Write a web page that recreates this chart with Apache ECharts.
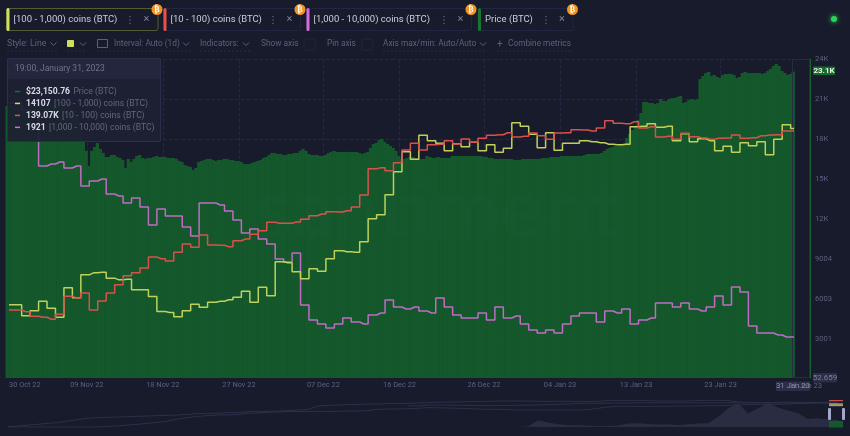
<!DOCTYPE html>
<html><head><meta charset="utf-8">
<style>html,body{margin:0;padding:0;background:#181b2b}#c{width:850px;height:436px}</style>
<script src="https://cdn.jsdelivr.net/npm/echarts@6/dist/echarts.min.js"></script>
</head><body><div id="c"></div>
<script>
// ---- data ----
const seriesNames = ['[100 - 1,000) coins (BTC)','[10 - 100) coins (BTC)','[1,000 - 10,000) coins (BTC)','Price (BTC)'];
const tickDates = ['2022-10-30T19:00Z','2022-11-09','2022-11-18','2022-11-27','2022-12-07','2022-12-16','2022-12-26','2023-01-04','2023-01-13','2023-01-23'];
const priceTicks = [3001,6003,9004,12000,15000,18000,21000,24000];
const tooltipRows = [['$23,150.76','Price (BTC)'],['14107','[100 - 1,000) coins (BTC)'],['139.07K','[10 - 100) coins (BTC)'],['1921','[1,000 - 10,000) coins (BTC)']];
// price sampled three times a day
const priceUsd = [20475,20475,20550,20550,20475,20475,20550,20625,20625,20550,20550,20625,20625,20700,20625,20625,20550,20550,20625,20550,20550,20475,20475,
20325,20175,19725,18750,17775,17100,15975,17100,17400,17700,17250,16950,16650,16650,16800,16800,16650,16575,16425,15825,16500,16275,16500,16725,16800,16575,16500,16575,16575,16650,16725,16650,16650,16650,16575,16575,16575,16500,16350,16275,16050,15975,15900,15675,15825,16275,16350,16425,16500,16500,16425,16350,16425,16425,16500,16500,16425,16425,16350,16350,16275,16125,16125,16125,16200,16275,16350,16425,16575,16650,16800,16950,16950,16875,16875,16800,16800,16875,16875,16950,16950,17100,17250,17100,16875,16800,16800,16800,16725,16725,16800,16950,17025,17100,17025,17025,17025,17025,17025,17025,17025,17025,16950,16875,16950,17025,17325,17625,17700,17925,18000,17775,17625,17475,17325,17100,16725,16500,16500,16575,16650,16650,16575,16500,16500,16500,16725,16650,16575,16575,16650,16575,16575,16575,16575,16725,16725,16725,16725,16725,16725,16725,16725,16725,16725,16725,16650,16650,16575,16575,16500,16500,16500,16500,16500,16500,16500,16425,16425,16425,16500,16500,16500,16500,16500,16500,16500,16575,16575,16575,16650,16650,16650,16650,16725,16725,16725,16725,16725,16725,16725,16725,16800,16875,16875,16875,16875,16875,16950,17100,17250,17325,17400,17475,17475,17550,17625,18075,18375,18675,18975,19425,19950,20775,20775,20700,20700,20625,20700,21000,20850,20850,21000,21075,21075,21150,21225,20700,20775,20925,21000,20925,21000,22500,22725,22950,23025,22725,22800,22650,22575,22800,22875,22875,22875,22800,22575,22650,22950,23025,22950,22950,22950,22950,22950,22875,22950,23100,23250,23475,23625,23475,23100,22950,22800,22875,23025,23150];
const yellow = [13578,13578,13545,13560,13589,13568,13541,13629,13599,13668,13674,13676,13658,13653,13655,13623,13623,13603,13558,13555,13542,13560,13580,13571,13586,13589,13593,13601,13619,13586,13631,13605,13707,13704,13677,13656,13686,13679,13716,13740,13737,13736,13767,13836,13848,13908,13977,14037,14015,14087,14070,14063,14040,14061,14052,14066,14040,14058,14036,14048,14124,14114,14090,14049,14094,14042,14063,14063,14070,14067,14064,14060,14058,14060,14112,14114,14121,14111,14114,14070,14091,14067,14076,14070,14040,14054,14036,14064,14055,14067,14028,14075,14118,14107];
const red = [137280,137280,137263,137217,137207,137187,137237,137417,137400,137450,137280,137370,137450,137533,137623,137653,137700,137810,137793,137770,137857,137940,137907,138030,137930,137927,137913,137973,137990,138037,138073,138157,138147,138147,138160,138187,138223,138240,138263,138260,138273,138310,138430,138693,138703,138673,138753,138880,138947,138880,138933,138937,138973,138940,138990,138957,138997,139027,139033,139053,139010,139017,139050,139023,138987,139050,139053,139083,139080,139070,139100,139173,139147,139143,139163,139100,139113,139010,139017,138987,139047,139013,139000,138987,138997,139000,139030,138997,139003,139023,139030,139033,139070,139070];
const pink = [2155,2155,2148,2146,2092,2094,2096,2090,2092,2072,2077,2079,2064,2062,2055,2060,2051,2033,2049,2042,2042,2031,2022,2055,2055,2053,2047,2038,2025,2029,2019,2014,1999,1996,2005,1953,1938,1934,1930,1934,1940,1936,1934,1943,1945,1958,1951,1949,1951,1947,1945,1960,1951,1943,1940,1940,1945,1938,1951,1940,1942,1934,1928,1925,1928,1925,1934,1942,1945,1945,1936,1947,1945,1949,1934,1938,1940,1955,1955,1951,1955,1949,1947,1951,1962,1953,1971,1966,1932,1925,1925,1923,1921,1921];
// overview strip: long-run price and holder counts (relative height)
const miniPrice = [0,0,0,0,0,0,0,0,0,0,0,0,0,0,0,0,0,0,0,0,0,0,0,0,0,0,0,0,0,0,0,0,0,0,0,0,0,0,0,0,0,200,200,300,300,300,300,300,400,500,800,1000,2900,19300,13500,8600,6600,5800,4900,2900,3700,4900,10600,11500,9500,7800,8600,6600,8600,10600,11500,29600,54600,69000,40200,54600,69000,56600,48000,40200,23900,25900,22100,21000];
const miniA = [0.7,1.3,2.3,3,4,4.7,6.3,7.7,9,9.7,10,10.3,10.7,11,11.3,11.7,12,12.3,13,13.7,14,14,14.7,14.7,15.7,15.7,16,16.3,16.7,17.3,17.7,21.3,22,22.3,22.7,23,23.3,23.3,23.7,23.7,24,24.3,24.7,25,25.3,25.3,25.7,25.7,26,26.3,26.3,26.3,26.3,26,26,26,26,25.7,25.7,26,26.7,26.7,26.7,26.7,26.7,26.3,26.3,26.3,26.3,26.7,27,27,26.7,25.3,25,24.7,24.7,25,25,25,25,25,25,25];
const miniB = [0.3,0.3,0.3,0.3,0.3,0.3,0.3,0.3,0.3,0.3,1,1.3,2.3,3,4,5,6.3,8.3,9.7,11,11.7,12.3,12.3,13,14,14.3,15,15.3,15.7,15.7,15.7,15.7,15.7,16,16.3,16.3,16.7,18,18.3,18.3,18.7,19,19.7,19.5,19.3,19,18.7,18.3,18,18,17.7,17.3,17.3,17.3,17.3,17.3,17.3,17.3,17.7,19,20.3,21,21,21,21,21,21,21.3,21.3,21.3,21.7,21.7,22,22.3,22.7,23,23,23,23.3,23.7,24,24.3,24.3,24.3];
const miniC = [null,null,null,null,null,null,null,null,null,null,null,null,null,null,null,null,null,null,null,null,null,null,null,null,null,null,null,null,null,null,null,null,null,null,null,null,null,null,null,null,21.5,21.5,22.3,22.3,22.3,22,22,21.7,21.7,21.7,22,22,22.3,22.3,22.7,23,23.3,23.7,24,24,24.3,24.3,24.3,24.5,24.5,24.5,24.5,24.5,24.5,24.5,24.5,24.5,24.5,24.5,24.5,24.5,24.5,24.5,24.5,24.5,24.5,24.5,24.5,24.5];

// ---- time ----
const DAY = 864e5, START = Date.UTC(2022,9,30,19);
const dailyTimes = yellow.map((_,i)=>START+i*DAY);
const priceTimes = priceUsd.map((_,i)=>START-5*36e5+i*8*36e5);
const MON=['Jan','Feb','Mar','Apr','May','Jun','Jul','Aug','Sep','Oct','Nov','Dec'];
const fmt=v=>{const d=new Date(v);return String(d.getUTCDate()).padStart(2,'0')+' '+MON[d.getUTCMonth()]+' '+String(d.getUTCFullYear()).slice(2)};
const pair=(t,v)=>t.map((x,i)=>[x,v[i]]);

// ---- colours ----
const BG='#181b2b',GRID='#232741',GREEN='#14582c',YEL='#bfd15a',RED='#d9514c',PNK='#c06cc6',MUTE='#5c6080',FONT='Roboto, "Noto Sans", sans-serif';

// ---- chrome ----
const G=[];
const txt=(x,y,t,fill,size,extra)=>G.push({type:'text',z:120,silent:true,style:Object.assign({x,y,text:t,fill,fontSize:size,fontFamily:FONT,textVerticalAlign:'middle'},extra||{})});
const rect=(x,y,w,h,fill,extra,z)=>G.push({type:'rect',z:z||110,silent:true,shape:Object.assign({x,y,width:w,height:h},extra&&extra.shape||{}),style:Object.assign({fill},extra&&extra.style||{})});
const chev=(x,y)=>G.push({type:'polyline',z:120,silent:true,shape:{points:[[x-3,y-1.5],[x,y+1.5],[x+3,y-1.5]]},style:{stroke:MUTE,lineWidth:1,fill:null}});
const dash=(x1,x2)=>G.push({type:'line',z:120,silent:true,shape:{x1,y1:51,x2,y2:51},style:{stroke:'#2a2e48',lineWidth:1,lineDash:[2,2]}});
function chip(x,w,color,label,textX,dotX,xX,badgeX,sel){
  rect(x,8.5,w,22,BG,{shape:{r:2},style:{stroke:sel?'#565c32':'#222640',lineWidth:1}});
  rect(x,8,3,23,color,{shape:{r:1.5}});
  txt(textX,20,label,'#c9ccdc',9.5);
  [16.5,20,23.5].forEach(y=>G.push({type:'circle',z:120,silent:true,shape:{cx:dotX,cy:y,r:.8},style:{fill:'#5c6080'}}));
  txt(xX,19.5,'×','#7d8199',11,{textAlign:'center'});
  G.push({type:'circle',z:125,silent:true,shape:{cx:badgeX,cy:9.5,r:5.5},style:{fill:'#f2931f'}});
  G.push({type:'text',z:126,silent:true,style:{x:badgeX,y:9.7,text:'₿',fill:'#fff',fontSize:8,textAlign:'center',textVerticalAlign:'middle',fontFamily:'DejaVu Sans',fontWeight:'bold'}});
}
chip(6.5,151.5,'#cde05c',seriesNames[0],13.5,130,146.5,157,true);
chip(163.5,137,'#e9504c',seriesNames[1],170.5,273,289.5,300);
chip(306.5,165,'#d76bdd',seriesNames[2],313.5,444,460.5,471);
chip(478,95,'#17752f',seriesNames[3],485,546,562,572.5);
G.push({type:'circle',z:120,silent:true,shape:{cx:834,cy:19,r:3},style:{fill:'#2ad45c',shadowBlur:5,shadowColor:'#2ad45c'}});

const CS=8.3;
txt(7,44,'Style: Line',MUTE,CS+.4);chev(53.5,44);dash(7,58);
rect(67,40,7,7,'#cde05c',{shape:{r:1}});chev(83,44);dash(67,87);
G.push({type:'rect',z:120,silent:true,shape:{x:97.5,y:39.5,width:10,height:8},style:{fill:null,stroke:MUTE,lineWidth:1}});
txt(114,44,'Interval: Auto (1d)',MUTE,CS);chev(186,44);dash(97,190);
txt(200,44,'Indicators:',MUTE,CS);chev(246,44);dash(200,250);
txt(261,44,'Show axis',MUTE,CS);
rect(304,39,11,11,BG,{style:{stroke:'#222640',lineWidth:1},shape:{r:2}});
txt(327,44,'Pin axis',MUTE,CS);
rect(362,39,11,11,BG,{style:{stroke:'#222640',lineWidth:1},shape:{r:2}});
txt(383,44,'Axis max/min: Auto/Auto',MUTE,CS);chev(483,44);dash(383,487);
txt(497,44,'+',MUTE,10);txt(508,44,'Combine metrics',MUTE,CS);dash(497,571);

// watermark
G.push({type:'text',z:20,silent:true,style:{x:438,y:212,text:'santiment',fill:'rgba(255,255,255,0.012)',fontSize:82,fontFamily:'Lato',fontWeight:'bold',textAlign:'center',textVerticalAlign:'middle'}});

// tooltip box
rect(7.5,58.5,153,83,'rgba(29,32,51,0.93)',{style:{stroke:'#2b2f49',lineWidth:1}},100);
rect(8,59,152,20,'#23263c',null,101);
txt(15,68.5,'19:00, January 31, 2023','#6f738c',8.5);
const rowColors=['#17752f','#cde05c','#e9504c','#d76bdd'];
tooltipRows.forEach((r,i)=>{const y=91.5+i*11.95;
  rect(15,y-.75,5,1.5,rowColors[i]);
  G.push({type:'text',z:120,silent:true,style:{x:26,y,text:'{a|'+r[0]+'} {b|'+r[1]+'}',textVerticalAlign:'middle',rich:{a:{fill:'#d7dae6',fontSize:8.6,fontWeight:'bold',fontFamily:FONT},b:{fill:'#62667f',fontSize:8.6,fontFamily:FONT}}}});
});

// right rail
G.push({type:'rect',z:3,silent:true,shape:{x:792.5,y:59.5,width:17,height:318},style:{fill:null,stroke:'#262a42',lineWidth:1}});
rect(813,66.5,22,8.5,'#14692d');txt(824,71,'23.1K','#e7f3ea',8,{textAlign:'center',fontWeight:'bold'});
txt(822,386,'31 Jan 23','#5f637c',7.6,{textAlign:'right'});
rect(813,373,24,9.5,'#2a2e46');txt(825,378,'52.659','#7d8199',8,{textAlign:'center'});
rect(776,381.5,34,9.5,'#2a2e46');txt(793,386,'31 Jan 23','#8a8ea8',7.8,{textAlign:'center'});

// overview selection
rect(829,421,14,6.5,GREEN,null,115);
rect(829,400,14,1.2,'#cf4f4c',null,115);
rect(829,403.5,14,1.2,'#c8da5c',null,115);
rect(829,405,14,1.2,'#d76bdd',null,115);
rect(828,408,3,12,'#a3a8cb',{shape:{r:1}},116);
rect(842,408,3,12,'#a3a8cb',{shape:{r:1}},116);

const lineS=(name,data,color,yIdx)=>({name,type:'line',xAxisIndex:0,yAxisIndex:yIdx,data,step:'middle',showSymbol:false,lineStyle:{color,width:1.5},itemStyle:{color},z:5,clip:true,silent:true});
const miniL=(data)=>({type:'line',xAxisIndex:1,yAxisIndex:4,data,showSymbol:false,lineStyle:{color:'#2c3049',width:1},z:3,silent:true,connectNulls:false});

const chart=echarts.init(document.getElementById('c'),null,{renderer:'canvas'});
chart.setOption({
  animation:false,useUTC:true,backgroundColor:BG,
  textStyle:{fontFamily:FONT},
  grid:[{left:7,top:59,width:785,height:319},{left:8,top:400,width:830,height:27.3}],
  xAxis:[{type:'value',gridIndex:0,min:START-0.237*DAY,max:START+92.66*DAY,
      axisLine:{show:false},axisTick:{show:false,customValues:tickDates.map(d=>+new Date(d))},
      splitLine:{show:true,lineStyle:{color:GRID,type:'dashed',width:1}},
      axisLabel:{customValues:tickDates.map(d=>+new Date(d)),formatter:v=>fmt(v),color:MUTE,fontSize:7.4,margin:4,alignMinLabel:'left',hideOverlap:false,fontFamily:FONT}},
    {type:'category',gridIndex:1,boundaryGap:false,show:false,data:miniPrice.map((_,i)=>i)}],
  yAxis:[{type:'value',gridIndex:0,position:'right',offset:18,min:52.659,max:24000,
      axisLine:{show:true,lineStyle:{color:'#17602f',width:1}},axisTick:{show:false,customValues:priceTicks},
      splitLine:{show:true,lineStyle:{color:GRID,type:'dashed',width:1}},
      axisLabel:{customValues:priceTicks,formatter:v=>v>=12000?(v/1000)+'K':String(v),color:MUTE,fontSize:7.6,margin:5,fontFamily:FONT,showMinLabel:true,showMaxLabel:true}},
    {type:'value',gridIndex:0,show:false,min:13358.5,max:14315.5},
    {type:'value',gridIndex:0,show:false,min:136600,max:139790},
    {type:'value',gridIndex:0,show:false,min:1880,max:2199},
    {type:'value',gridIndex:1,show:false,min:0,max:27.3},
    {type:'value',gridIndex:1,show:false,min:0,max:78500}],
  series:[
    {name:seriesNames[3],type:'bar',xAxisIndex:0,yAxisIndex:0,data:pair(priceTimes,priceUsd),barWidth:3.4,itemStyle:{color:GREEN},z:2,silent:true},
    lineS(seriesNames[2],pair(dailyTimes,pink),PNK,3),
    lineS(seriesNames[0],pair(dailyTimes,yellow),YEL,1),
    lineS(seriesNames[1],pair(dailyTimes,red),RED,2),
    {type:'line',xAxisIndex:1,yAxisIndex:5,data:miniPrice,showSymbol:false,lineStyle:{width:0},areaStyle:{color:'#2a2d42',opacity:1},z:2,silent:true},
    miniL(miniA),miniL(miniB),miniL(miniC)
  ],
  graphic:{elements:G}
});
</script></body></html>
